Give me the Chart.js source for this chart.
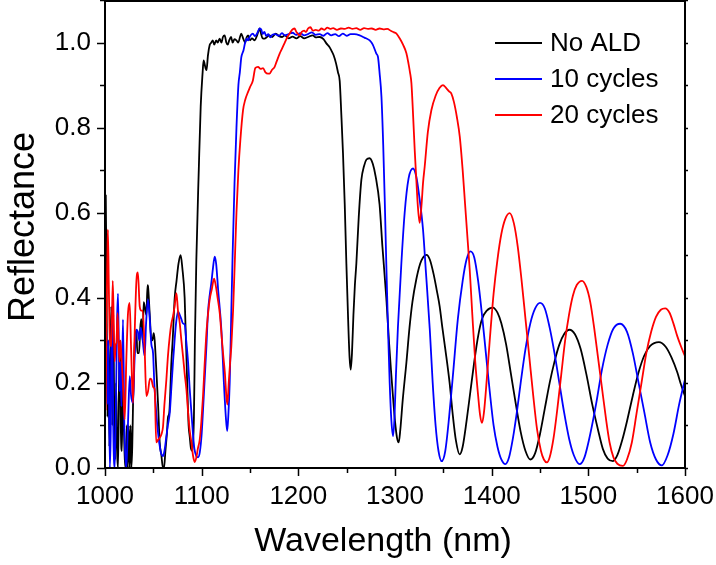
<!DOCTYPE html>
<html><head><meta charset="utf-8">
<script src="https://cdn.jsdelivr.net/npm/chart.js@4.4.1/dist/chart.umd.min.js"></script>
<style>html,body{margin:0;padding:0;background:#fff}#wrap{width:716px;height:565px}</style>
</head><body><div id="wrap"><canvas id="c" width="716" height="565"></canvas></div>
<script>
const seriesLabels = ['No ALD', '10 cycles', '20 cycles'];
const seriesColors = ['#000000', '#0000ff', '#ff0000'];
const xTickLabels = ['1000', '1100', '1200', '1300', '1400', '1500', '1600'];
const yTickLabels = ['0.0', '0.2', '0.4', '0.6', '0.8', '1.0'];
const xTitle = 'Wavelength (nm)';
const yTitle = 'Reflectance';

const noAldWl = [1000,1000.8,1001.5,1002.5,1003.5,1004.5,1005.5,1006.5,1007.5,1008.5,1009.5,1010.5,1011.5,1012.5,1013.5,1014.5,1015.5,1016.5,1017.5,1018.5,1019.5,1020.5,1021.5,1022.5,1023.5,1024.5,1025.5,1026.5,1027.3,1028.2,1029,1030,1031,1032.4,1033.5,1035.2,1036.5,1037.6,1039,1040,1041.1,1042.8,1044,1044.5,1046.2,1048,1049,1050.4,1051.4,1053.1,1054.9,1056.6,1058.3,1060,1061,1062.5,1064,1065.2,1066.5,1068.7,1070,1072.1,1074,1076,1078.3,1080,1082.4,1084.9,1086.5,1087.6,1089,1090.4,1092,1093,1094.5,1097,1099,1101,1102,1104,1105,1106.5,1108.3,1110,1111.5,1113,1115,1116.5,1118.6,1120.5,1122,1123.8,1125.5,1127,1128.5,1130.5,1132,1134,1136,1138,1139.5,1141,1143,1145,1146.5,1148,1150,1152,1154.9,1157,1158.5,1160,1161.5,1163,1165.2,1167,1170,1173,1176.7,1180,1183.3,1186,1190,1194,1198,1202,1206,1210,1215,1218,1222,1226,1229,1232,1234,1236.5,1239,1241,1242.8,1244.5,1246.2,1248,1249.7,1251.5,1253,1254.2,1255.5,1257,1258.5,1260,1262.5,1265.2,1268,1270.5,1273.8,1277,1280,1284,1287,1291,1294,1296,1298,1300,1302,1303.8,1305.5,1308,1311.8,1315,1318,1322,1326,1329,1332.5,1336,1340,1343,1346.2,1349,1352,1356.5,1360,1363,1366.9,1370,1374,1378,1382,1386,1390,1395,1401.3,1406,1410,1415,1420,1425,1430,1435,1440,1445,1450,1455,1460,1465,1470,1475,1480.5,1486,1492,1498,1504,1510,1515,1520,1525.5,1530,1535,1540,1546,1552,1558,1564,1573,1580,1586,1592,1596,1600];
const noAldR = [0.2,0.64,0.45,0.12,0.3,0.05,0.25,0.38,0.1,0.36,0.15,0.02,0.2,0.04,0.0,0.2,0.3,0.08,0.04,0.22,0.1,0.02,0.0,0.1,0.0,0.1,0.0,0.1,0.0,0.05,0.15,0.25,0.3,0.325,0.27,0.27,0.33,0.35,0.3,0.39,0.38,0.36,0.43,0.427,0.364,0.3,0.3,0.317,0.3,0.23,0.15,0.06,0.03,0.0,0.0,0.04,0.08,0.12,0.13,0.25,0.3,0.4,0.44,0.48,0.5,0.47,0.4,0.21,0.1,0.075,0.045,0.04,0.12,0.3,0.49,0.7,0.85,0.93,0.958,0.94,0.935,0.97,0.994,1.0,1.005,0.995,1.005,1.0,1.009,1.0,1.013,1.017,1.0,0.995,1.005,1.013,1.0,1.008,1.005,1.0,1.012,1.021,1.009,1.0,1.012,1.017,1.005,1.01,1.005,1.015,1.025,1.033,1.02,1.01,1.009,1.012,1.017,1.013,1.021,1.015,1.013,1.017,1.01,1.014,1.01,1.015,1.01,1.013,1.017,1.012,1.013,1.008,0.998,0.99,0.982,0.97,0.951,0.93,0.91,0.83,0.74,0.62,0.48,0.35,0.26,0.231,0.27,0.36,0.43,0.48,0.59,0.677,0.71,0.725,0.728,0.715,0.685,0.62,0.52,0.4,0.29,0.225,0.165,0.11,0.072,0.06,0.09,0.16,0.248,0.33,0.39,0.443,0.48,0.495,0.501,0.49,0.455,0.42,0.38,0.33,0.28,0.2,0.12,0.065,0.032,0.05,0.11,0.18,0.25,0.31,0.35,0.37,0.377,0.365,0.34,0.29,0.22,0.15,0.085,0.04,0.02,0.035,0.08,0.14,0.2,0.25,0.29,0.315,0.325,0.315,0.28,0.22,0.15,0.09,0.045,0.022,0.016,0.03,0.065,0.11,0.17,0.225,0.265,0.287,0.296,0.285,0.26,0.225,0.195,0.169];

const cyc10Wl = [1000,1001.4,1002.5,1003.5,1005,1006,1006.6,1007.5,1008.5,1010,1011,1012.5,1013.5,1015,1016,1017,1018.6,1020,1021,1022,1023,1024,1025.6,1027,1029,1030.5,1032.5,1034,1035.5,1037,1039,1041,1042.5,1044.5,1046,1048,1049.7,1051,1053,1055,1056.6,1058,1060,1061.5,1063.5,1065,1067,1068.7,1070.3,1072,1073.5,1075.5,1077.3,1079,1080.5,1082.5,1084,1086,1087.5,1089.4,1091,1092.5,1094.5,1096.2,1098,1100,1101.5,1103.1,1105,1106.5,1108.5,1110,1111.7,1113.5,1115,1117,1120.4,1123,1125,1126.4,1127.5,1129,1130.5,1132,1134,1136,1138,1139.5,1141,1143.3,1145,1146.7,1148,1150,1153,1155,1157,1160,1161.8,1163,1165,1166.7,1169,1171,1173,1176,1180,1183,1186,1190,1194,1198,1202,1206,1210,1214,1218,1222,1226,1230,1234,1238,1242,1246,1250,1254,1258,1263.5,1267,1270,1273.8,1277,1280.7,1282.4,1284,1286,1287.8,1289.3,1291,1292.8,1294.5,1296.3,1298,1299.5,1301,1303,1306.6,1310,1314,1318.6,1322,1325,1329,1332,1336,1339,1342,1345,1348.3,1352,1356,1360,1365,1370,1374,1378,1382,1386,1390,1394,1398,1402,1406,1410,1414.2,1418,1422,1426,1430,1435,1440,1445,1450,1455,1460,1465,1470,1475,1480,1485,1491,1496,1502,1508,1514,1520,1526,1533,1540,1546,1552,1558,1564,1570,1576,1582,1588,1594,1600];
const cyc10R = [0.14,0.34,0.15,0.3,0.0,0.1,0.3,0.35,0.1,0.0,0.1,0.35,0.41,0.18,0.25,0.145,0.349,0.1,0.03,0.0,0.05,0.12,0.216,0.17,0.153,0.25,0.325,0.32,0.3,0.33,0.3,0.263,0.34,0.396,0.36,0.29,0.27,0.2,0.13,0.08,0.052,0.035,0.028,0.04,0.075,0.1,0.13,0.19,0.247,0.3,0.34,0.368,0.36,0.35,0.34,0.337,0.3,0.247,0.19,0.13,0.08,0.045,0.028,0.025,0.036,0.08,0.14,0.208,0.29,0.364,0.41,0.435,0.47,0.497,0.48,0.42,0.325,0.2,0.12,0.087,0.12,0.2,0.35,0.5,0.67,0.8,0.9,0.93,0.965,0.982,1.0,1.009,1.005,1.015,1.021,1.015,1.02,1.033,1.03,1.02,1.025,1.015,1.02,1.012,1.018,1.02,1.016,1.022,1.017,1.02,1.023,1.018,1.022,1.017,1.02,1.024,1.018,1.02,1.016,1.022,1.017,1.02,1.015,1.021,1.016,1.02,1.02,1.017,1.013,1.01,1.005,0.995,0.974,0.966,0.93,0.872,0.76,0.638,0.48,0.325,0.2,0.11,0.075,0.12,0.22,0.33,0.482,0.6,0.68,0.704,0.685,0.64,0.56,0.46,0.325,0.2,0.1,0.04,0.016,0.04,0.12,0.22,0.35,0.44,0.49,0.509,0.495,0.44,0.36,0.27,0.18,0.1,0.05,0.02,0.009,0.025,0.07,0.13,0.2,0.28,0.34,0.375,0.388,0.375,0.33,0.27,0.2,0.13,0.07,0.03,0.009,0.025,0.08,0.15,0.23,0.29,0.328,0.339,0.32,0.27,0.2,0.13,0.06,0.02,0.006,0.03,0.08,0.15,0.208];

const cyc20Wl = [1000,1000.7,1001.5,1002.5,1003,1004,1005,1006.6,1008,1009,1010,1011,1011.8,1013,1014,1015,1016,1017,1018.5,1020.4,1022,1023.8,1025.5,1027,1029,1030.5,1032.5,1034,1035.9,1037.5,1039,1041,1042.8,1044.5,1046.5,1048,1050,1051.4,1053,1054.5,1056.6,1058.5,1060,1061.5,1063.5,1065,1067,1068.7,1070.3,1072,1073.9,1075.5,1077.3,1079,1080.7,1082.5,1084.2,1086,1087.5,1089.4,1091,1092.8,1094.5,1096,1098,1099.7,1101.4,1103,1104.9,1106.5,1108.3,1110.5,1112.8,1114.5,1116.5,1118.7,1121,1122.5,1124,1125.5,1126.6,1128,1129.5,1130.7,1132.5,1134.2,1136,1138,1140,1142.8,1145,1148,1150,1153,1155.5,1158.3,1161,1163.5,1166,1168.6,1170.4,1172.5,1175.5,1177.5,1180.7,1183,1186,1188.5,1191,1193.5,1196,1198,1201.4,1203.5,1206,1208,1210,1212.5,1215,1218,1221,1224,1227,1230,1233,1236,1240,1244,1248,1252,1256,1260,1264,1268,1272,1276,1280,1284,1288,1292,1296,1299,1301.5,1304.8,1308.3,1311.8,1314,1315.5,1317,1318.7,1320.4,1322,1323.5,1325.5,1327.5,1329,1330.7,1334,1337.6,1342,1346,1349.6,1353,1356,1358.3,1361,1364,1367,1370,1372.5,1375,1377.3,1380,1383,1386,1388,1390,1392,1395,1398,1402,1406,1410,1414,1418.6,1423,1427,1431,1435,1439,1443,1447,1451,1454,1457.2,1460,1464,1468,1472,1476,1480,1484,1488,1493.5,1498,1502,1506,1510,1514,1518,1522,1526,1530,1535.8,1540,1545,1550,1555,1560,1565,1570,1575,1579.5,1584,1588,1592,1596,1600];
const cyc20R = [0.14,0.138,0.35,0.5,0.56,0.42,0.3,0.286,0.44,0.35,0.25,0.29,0.294,0.364,0.3,0.25,0.3,0.263,0.2,0.114,0.25,0.364,0.388,0.28,0.153,0.3,0.44,0.46,0.38,0.37,0.37,0.28,0.169,0.18,0.21,0.208,0.19,0.185,0.06,0.065,0.071,0.08,0.097,0.15,0.208,0.26,0.31,0.34,0.356,0.38,0.411,0.37,0.341,0.3,0.263,0.22,0.185,0.13,0.09,0.06,0.03,0.014,0.025,0.045,0.067,0.11,0.169,0.24,0.318,0.36,0.396,0.42,0.445,0.43,0.4,0.364,0.3,0.26,0.224,0.17,0.149,0.2,0.25,0.286,0.37,0.48,0.6,0.7,0.77,0.841,0.865,0.884,0.895,0.911,0.94,0.943,0.938,0.94,0.93,0.927,0.927,0.935,0.943,0.955,0.974,0.985,1.0,1.012,1.021,1.03,1.033,1.025,1.017,1.025,1.028,1.025,1.033,1.036,1.028,1.03,1.028,1.033,1.03,1.035,1.032,1.034,1.03,1.033,1.032,1.035,1.032,1.034,1.03,1.034,1.032,1.033,1.03,1.033,1.031,1.032,1.027,1.024,1.021,1.01,0.995,0.975,0.95,0.93,0.904,0.83,0.747,0.68,0.62,0.576,0.62,0.67,0.708,0.79,0.841,0.875,0.893,0.9,0.893,0.885,0.88,0.86,0.825,0.779,0.7,0.62,0.54,0.466,0.36,0.25,0.17,0.125,0.106,0.13,0.21,0.3,0.41,0.49,0.55,0.585,0.599,0.575,0.52,0.44,0.35,0.26,0.17,0.09,0.04,0.02,0.013,0.025,0.07,0.14,0.22,0.3,0.36,0.405,0.43,0.44,0.425,0.39,0.33,0.26,0.19,0.12,0.06,0.025,0.01,0.005,0.02,0.06,0.13,0.2,0.27,0.32,0.355,0.372,0.375,0.365,0.34,0.31,0.285,0.263];

const seriesWl = [noAldWl, cyc10Wl, cyc20Wl];
const seriesR = [noAldR, cyc10R, cyc20R];

const FONT = '"Liberation Sans", Arial, sans-serif';
Chart.defaults.font.family = FONT;
Chart.defaults.color = '#000';

const datasets = seriesLabels.map((lab, i) => ({
  label: lab,
  data: seriesWl[i].map((w, j) => ({x: w, y: seriesR[i][j]})),
  borderColor: seriesColors[i],
  backgroundColor: seriesColors[i],
  borderWidth: 1.8,
  pointRadius: 0,
  fill: false,
  cubicInterpolationMode: 'monotone',
  order: 3 - i
}));

const frame = {
  id: 'frame',
  afterDatasetsDraw(chart) {
    const {ctx, chartArea: a, scales} = chart;
    const xs = scales.x, ys = scales.y;
    ctx.save();
    ctx.strokeStyle = '#000';
    ctx.lineWidth = 2;
    ctx.strokeRect(a.left, a.top + 1, a.right - a.left, a.bottom - a.top - 1);
    ctx.lineWidth = 1.5;
    ctx.beginPath();
    for (let v = 1000; v <= 1600; v += 50) {
      const px = Math.round(xs.getPixelForValue(v)) + 0.5;
      const len = (v % 100 === 0) ? 8 : 5;
      ctx.moveTo(px, a.bottom); ctx.lineTo(px, a.bottom + len);
    }
    for (let k = 0; k <= 11; k++) {
      const v = k / 10;
      const py = Math.round(ys.getPixelForValue(v)) + 0.5;
      const len = (k % 2 === 0) ? 8 : 5;
      ctx.moveTo(a.left, py); ctx.lineTo(a.left - len, py);
      ctx.moveTo(a.right, py); ctx.lineTo(a.right + 3, py);
    }
    ctx.stroke();
    // axis titles
    ctx.fillStyle = '#000';
    ctx.textAlign = 'center';
    ctx.textBaseline = 'alphabetic';
    ctx.font = '34px ' + FONT;
    ctx.fillText(xTitle, (a.left + a.right) / 2 - 12, 551);
    ctx.save();
    ctx.translate(34, (a.top + a.bottom) / 2 - 7);
    ctx.rotate(-Math.PI / 2);
    ctx.font = '36px ' + FONT;
    ctx.fillText(yTitle, 0, 0);
    ctx.restore();
    // legend
    const lx0 = a.right - 190, lx1 = a.right - 143, tx = a.right - 135;
    ctx.font = '26px ' + FONT;
    ctx.textBaseline = 'middle';
    ctx.textAlign = 'left';
    chart.data.datasets.forEach((ds, i) => {
      const y = a.top + 43 + i * 36;
      ctx.strokeStyle = ds.borderColor;
      ctx.lineWidth = 2;
      ctx.beginPath(); ctx.moveTo(lx0, y); ctx.lineTo(lx1, y); ctx.stroke();
      ctx.fillStyle = '#000';
      ctx.fillText(ds.label, tx, y + 1);
    });
    ctx.restore();
  }
};

new Chart(document.getElementById('c'), {
  type: 'line',
  data: {datasets},
  options: {
    responsive: false,
    animation: false,
    devicePixelRatio: 1,
    layout: {padding: {left: 0, right: 31, top: 0, bottom: 0}},
    plugins: {legend: {display: false}, tooltip: {enabled: false}},
    scales: {
      x: {
        type: 'linear', min: 1000, max: 1600,
        afterFit(s) { s.height = 97; s.paddingLeft = 0; s.paddingRight = 0; },
        grid: {display: false, drawTicks: false},
        border: {display: false},
        ticks: {
          stepSize: 50, autoSkip: false, maxRotation: 0, padding: 13,
          font: {size: 26}, color: '#000',
          callback: v => xTickLabels.includes(String(v)) ? String(v) : ''
        },
        title: {display: false}
      },
      y: {
        type: 'linear', min: 0, max: 1.1,
        afterFit(s) { s.width = 105; s.paddingTop = 0; s.paddingBottom = 0; },
        grid: {display: false, drawTicks: false},
        border: {display: false},
        ticks: {
          stepSize: 0.1, autoSkip: false, padding: 14,
          font: {size: 26}, color: '#000',
          callback: v => { const t = (Math.round(v * 10) / 10).toFixed(1); return yTickLabels.includes(t) ? t : ''; }
        },
        title: {display: false}
      }
    }
  },
  plugins: [frame]
});
</script></body></html>
